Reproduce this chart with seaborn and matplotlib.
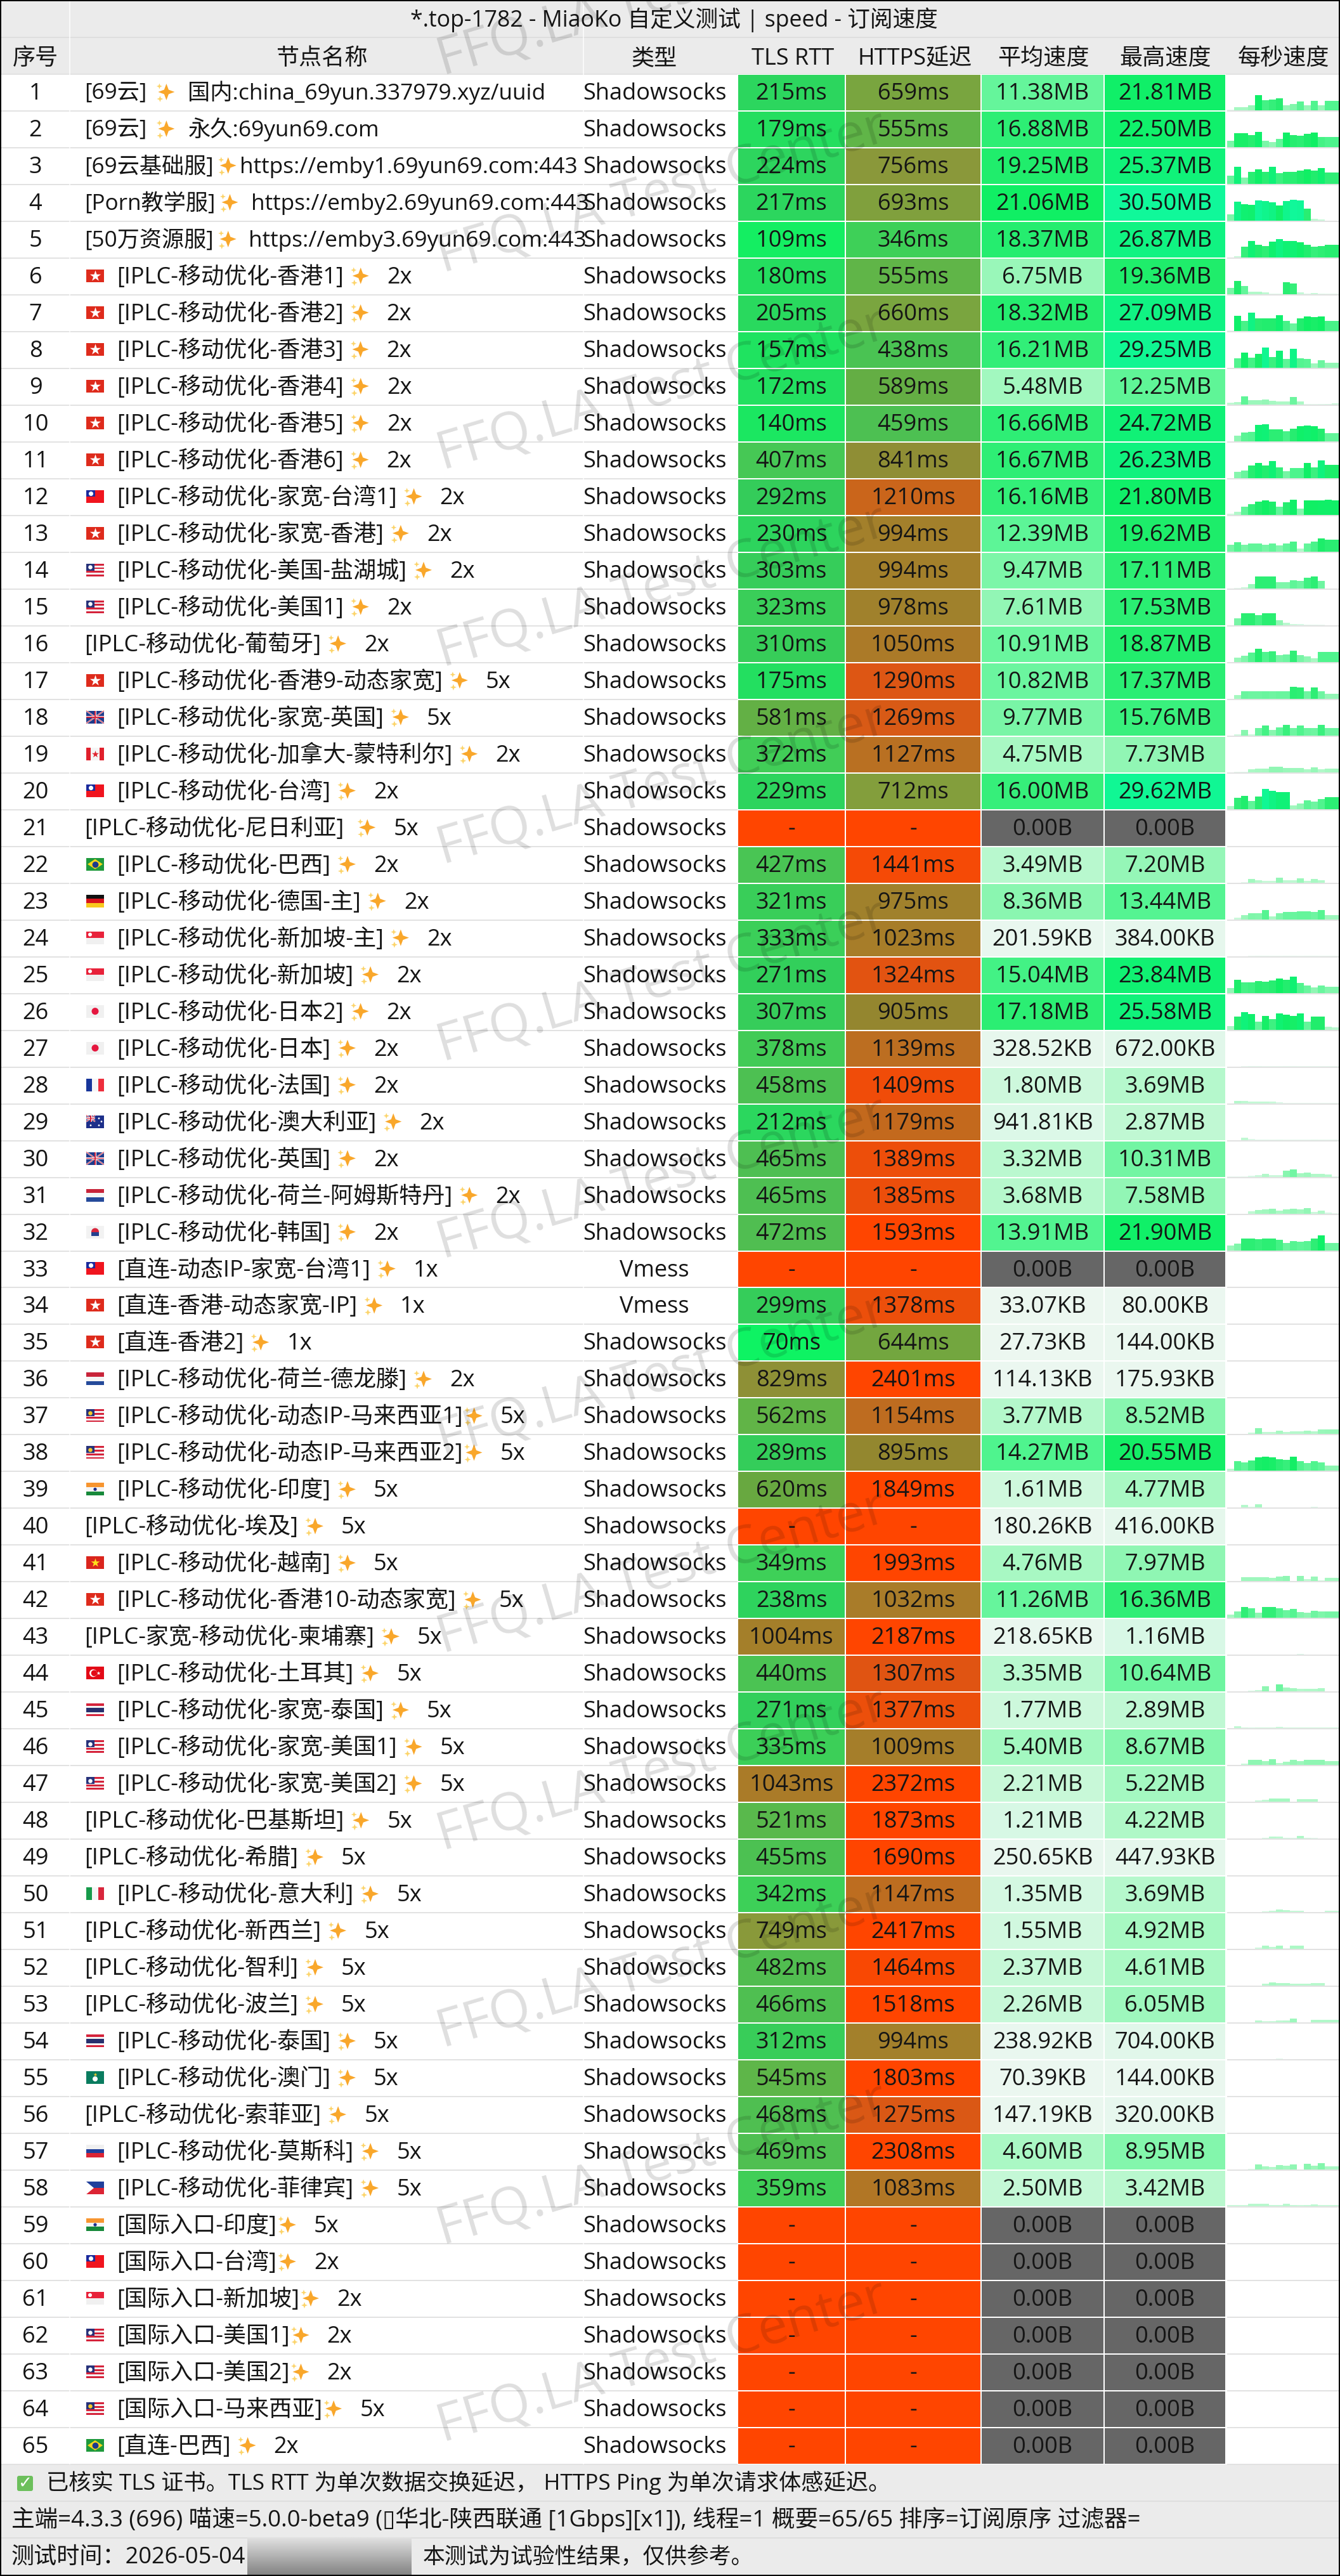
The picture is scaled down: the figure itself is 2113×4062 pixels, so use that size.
import matplotlib
matplotlib.use("Agg")
import numpy as np
import matplotlib.pyplot as plt
import seaborn as sns
from matplotlib.colors import LinearSegmentedColormap
from matplotlib.patches import Rectangle, Circle, Polygon, PathPatch, FancyBboxPatch
from matplotlib.path import Path

W, H, DPI = 2113, 4062, 100
TITLE = "*.top-1782 - MiaoKo 自定义测试 | speed - 订阅速度"
HEADERS = ["序号", "节点名称", "类型", "TLS RTT", "HTTPS延迟", "平均速度", "最高速度", "每秒速度"]
FOOT1 = "已核实 TLS 证书。TLS RTT 为单次数据交换延迟， HTTPS Ping 为单次请求体感延迟。"
FOOT2 = "主端=4.3.3 (696) 喵速=5.0.0-beta9 (▯华北-陕西联通 [1Gbps][x1]), 线程=1 概要=65/65 排序=订阅原序 过滤器="
FOOT3A = "测试时间：2026-05-04"
FOOT3B = "本测试为试验性结果，仅供参考。"
WATERMARK = "FFQ.LA Test Center"

P = "[IPLC-移动优化-"
names = ["[69云]", "[69云]", "[69云基础服]", "[Porn教学服]", "[50万资源服]",
         P+"香港1]", P+"香港2]", P+"香港3]", P+"香港4]", P+"香港5]", P+"香港6]",
         P+"家宽-台湾1]", P+"家宽-香港]", P+"美国-盐湖城]", P+"美国1]", P+"葡萄牙]",
         P+"香港9-动态家宽]", P+"家宽-英国]", P+"加拿大-蒙特利尔]", P+"台湾]", P+"尼日利亚]",
         P+"巴西]", P+"德国-主]", P+"新加坡-主]", P+"新加坡]", P+"日本2]", P+"日本]",
         P+"法国]", P+"澳大利亚]", P+"英国]", P+"荷兰-阿姆斯特丹]", P+"韩国]",
         "[直连-动态IP-家宽-台湾1]", "[直连-香港-动态家宽-IP]", "[直连-香港2]",
         P+"荷兰-德龙滕]", P+"动态IP-马来西亚1]", P+"动态IP-马来西亚2]", P+"印度]", P+"埃及]",
         P+"越南]", P+"香港10-动态家宽]", "[IPLC-家宽-移动优化-柬埔寨]", P+"土耳其]",
         P+"家宽-泰国]", P+"家宽-美国1]", P+"家宽-美国2]", P+"巴基斯坦]", P+"希腊]", P+"意大利]",
         P+"新西兰]", P+"智利]", P+"波兰]", P+"泰国]", P+"澳门]", P+"索菲亚]", P+"莫斯科]", P+"菲律宾]",
         "[国际入口-印度]", "[国际入口-台湾]", "[国际入口-新加坡]", "[国际入口-美国1]",
         "[国际入口-美国2]", "[国际入口-马来西亚]", "[直连-巴西]"]
suffixes = ["国内:china_69yun.337979.xyz/uuid", "永久:69yun69.com", "https://emby1.69yun69.com:443",
            "https://emby2.69yun69.com:443", "https://emby3.69yun69.com:443",
            "2x", "2x", "2x", "2x", "2x", "2x", "2x", "2x", "2x", "2x", "2x", "5x", "5x", "2x", "2x", "5x",
            "2x", "2x", "2x", "2x", "2x", "2x", "2x", "2x", "2x", "2x", "2x", "1x", "1x", "1x", "2x",
            "5x", "5x", "5x", "5x", "5x", "5x", "5x", "5x", "5x", "5x", "5x", "5x", "5x", "5x", "5x", "5x", "5x",
            "5x", "5x", "5x", "5x", "5x", "5x", "2x", "2x", "2x", "2x", "5x", "2x"]
flags = ["", "", "", "", "", "hk", "hk", "hk", "hk", "hk", "hk", "tw", "hk", "us", "us", "", "hk", "gb", "ca", "tw", "",
         "br", "de", "sg", "sg", "jp", "jp", "fr", "au", "gb", "nl", "kr", "tw", "hk", "hk", "nl", "my", "my", "in", "",
         "vn", "hk", "", "tr", "th", "us", "us", "", "", "it", "", "", "", "th", "mo", "", "ru", "ph",
         "in", "tw", "sg", "us", "us", "my", "br"]
types = ["Shadowsocks"] * 32 + ["Vmess", "Vmess"] + ["Shadowsocks"] * 31
tls = ["215", "179", "224", "217", "109", "180", "205", "157", "172", "140", "407", "292", "230", "303", "323", "310",
       "175", "581", "372", "229", "-", "427", "321", "333", "271", "307", "378", "458", "212", "465", "465", "472",
       "-", "299", "70", "829", "562", "289", "620", "-", "349", "238", "1004", "440", "271", "335", "1043", "521",
       "455", "342", "749", "482", "466", "312", "545", "468", "469", "359", "-", "-", "-", "-", "-", "-", "-"]
https = ["659", "555", "756", "693", "346", "555", "660", "438", "589", "459", "841", "1210", "994", "994", "978",
         "1050", "1290", "1269", "1127", "712", "-", "1441", "975", "1023", "1324", "905", "1139", "1409", "1179",
         "1389", "1385", "1593", "-", "1378", "644", "2401", "1154", "895", "1849", "-", "1993", "1032", "2187", "1307",
         "1377", "1009", "2372", "1873", "1690", "1147", "2417", "1464", "1518", "994", "1803", "1275", "2308", "1083",
         "-", "-", "-", "-", "-", "-", "-"]
avg = ["11.38MB", "16.88MB", "19.25MB", "21.06MB", "18.37MB", "6.75MB", "18.32MB", "16.21MB", "5.48MB", "16.66MB",
       "16.67MB", "16.16MB", "12.39MB", "9.47MB", "7.61MB", "10.91MB", "10.82MB", "9.77MB", "4.75MB", "16.00MB", "0.00B",
       "3.49MB", "8.36MB", "201.59KB", "15.04MB", "17.18MB", "328.52KB", "1.80MB", "941.81KB", "3.32MB", "3.68MB",
       "13.91MB", "0.00B", "33.07KB", "27.73KB", "114.13KB", "3.77MB", "14.27MB", "1.61MB", "180.26KB", "4.76MB",
       "11.26MB", "218.65KB", "3.35MB", "1.77MB", "5.40MB", "2.21MB", "1.21MB", "250.65KB", "1.35MB", "1.55MB", "2.37MB",
       "2.26MB", "238.92KB", "70.39KB", "147.19KB", "4.60MB", "2.50MB", "0.00B", "0.00B", "0.00B", "0.00B", "0.00B",
       "0.00B", "0.00B"]
peak = ["21.81MB", "22.50MB", "25.37MB", "30.50MB", "26.87MB", "19.36MB", "27.09MB", "29.25MB", "12.25MB", "24.72MB",
        "26.23MB", "21.80MB", "19.62MB", "17.11MB", "17.53MB", "18.87MB", "17.37MB", "15.76MB", "7.73MB", "29.62MB",
        "0.00B", "7.20MB", "13.44MB", "384.00KB", "23.84MB", "25.58MB", "672.00KB", "3.69MB", "2.87MB", "10.31MB",
        "7.58MB", "21.90MB", "0.00B", "80.00KB", "144.00KB", "175.93KB", "8.52MB", "20.55MB", "4.77MB", "416.00KB",
        "7.97MB", "16.36MB", "1.16MB", "10.64MB", "2.89MB", "8.67MB", "5.22MB", "4.22MB", "447.93KB", "3.69MB", "4.92MB",
        "4.61MB", "6.05MB", "704.00KB", "144.00KB", "320.00KB", "8.95MB", "3.42MB", "0.00B", "0.00B", "0.00B", "0.00B",
        "0.00B", "0.00B", "0.00B"]
# per-second speed in MB, one list of sixteen bars per node
per_second = [
    [0.8, 5, 5, 7, 21.8, 15, 16, 18, 7, 9, 13, 7, 14, 7, 14, 14],
    [9.6, 20, 20, 18, 22.5, 9.6, 7.6, 12, 21.6, 18, 17, 19.6, 21, 15, 14.4, 14.4],
    [11.6, 25.3, 9, 17.6, 21.6, 17.6, 25, 15.6, 17.6, 17.6, 19.6, 21, 19, 23, 16.4, 16.4],
    [9.6, 27.6, 23.6, 23, 30, 28.4, 27, 22, 28.4, 30.5, 30, 17.6, 3, 2, 0.4, 0],
    [0, 2, 16, 24, 18.8, 16.8, 23, 26.8, 24, 24, 22, 18.8, 16, 16.8, 18, 18],
    [9.6, 19.3, 11.6, 4, 4, 2.8, 0.8, 0.8, 17.6, 16, 2.4, 1.2, 2, 0.8, 0.4, 0.4],
    [0.4, 22.4, 14.8, 27, 18, 18.8, 18.8, 23, 14.8, 11, 18.8, 21, 20, 21, 14.8, 14.8],
    [0, 14, 22, 15, 20, 29.2, 15.6, 25, 12.4, 27.6, 13.6, 12.8, 6, 10.8, 7.6, 7.6],
    [3, 4, 12.2, 6.4, 6.4, 7.2, 5, 4.4, 4.4, 10.8, 4.4, 0.8, 0.4, 0.8, 1.2, 2],
    [0, 8, 12.8, 13.6, 24, 24.7, 17, 17, 14.8, 18, 22, 23, 22, 18.8, 11.6, 11.6],
    [0, 8.8, 11, 18, 22.4, 18.8, 24.4, 16, 10, 14.4, 14.4, 21.6, 15.6, 26.2, 19.6, 19.6],
    [1.5, 4, 12, 16, 19.5, 21, 19.5, 12, 18, 21.8, 9, 21, 21, 21.5, 21.8, 21.5],
    [10, 13.8, 9.8, 11.8, 11.8, 10, 11.8, 9, 11.8, 14.6, 4, 11.8, 14.6, 19.6, 17.5, 17.5],
    [0, 0.4, 2, 6.5, 17.1, 17, 17, 9.3, 9.3, 12.2, 10.6, 15.4, 17, 10.6, 0, 0],
    [0, 9.8, 17.5, 17.4, 15, 17.4, 17.5, 7.3, 3.3, 1.6, 1.2, 0.6, 0.4, 0.3, 0, 0],
    [0, 6.5, 9.3, 13.8, 18.87, 14.2, 15.9, 9.8, 10.6, 16.3, 9.8, 8, 4.9, 14.2, 14.2, 14.2],
    [0, 5.3, 11, 10.6, 10.6, 11, 10.6, 11, 11, 17.37, 16.7, 10.6, 16.7, 10.6, 7.3, 7.3],
    [0, 1.6, 8.5, 2, 10.6, 15, 8.5, 12.2, 15.76, 10.6, 14.2, 11, 10.6, 15.7, 10.6, 10.6],
    [0, 0.4, 0.8, 4.5, 4.9, 5.3, 7.73, 7.7, 6.5, 6.1, 6.1, 4.5, 6.9, 4, 4.9, 5.3],
    [4, 16.3, 19, 12.2, 17.9, 29.62, 27, 25, 25, 5.7, 8, 12.6, 10.6, 14.2, 17, 17],
    [0] * 16,
    [0, 0, 0.8, 5.5, 3.5, 2.2, 2.2, 7.2, 3, 3, 6.5, 2.8, 4.8, 3.8, 0, 0],
    [0, 2, 6.5, 9.3, 9, 13.44, 4.5, 9.3, 11, 11, 11.4, 11.4, 10.6, 13.4, 6, 6],
    [0, 0, 0.1, 0.2, 0.38, 0.3, 0.2, 0.2, 0.3, 0.3, 0.2, 0.3, 0.3, 0.2, 0.2, 0.2],
    [7.3, 19.5, 15, 15.4, 17.5, 16.7, 17.9, 21, 18.7, 23.84, 14.2, 11, 8, 11, 9, 9],
    [4.9, 18.7, 25.58, 22.8, 11.4, 20.3, 15.4, 23.6, 21.5, 20.3, 23.6, 11.4, 19.1, 19.1, 4, 3.3],
    [0, 0, 0.3, 0.67, 0.5, 0.3, 0.3, 0.3, 0.4, 0.4, 0.3, 0.3, 0.3, 0.3, 0.3, 0.3],
    [0, 3.69, 3, 2.5, 2.5, 2.5, 2, 1, 0.3, 0.3, 0.3, 0.3, 0.2, 0.2, 0.2, 0.2],
    [0, 0, 2.87, 1, 0.8, 0.8, 0.6, 0.8, 0.4, 0.5, 0.5, 0.5, 0.9, 0.6, 0.5, 0.5],
    [0.2, 0.2, 0.4, 1.2, 2, 4, 2, 2, 8.5, 10.31, 5.3, 6, 4, 4, 3.6, 0.8],
    [0, 0, 0, 2.8, 5.3, 5.7, 7.3, 4.5, 6.1, 6.9, 5.7, 7.58, 2, 4, 1.2, 0.4],
    [6.5, 9.3, 17, 17, 16, 17, 17, 15, 11, 13.4, 12.2, 13, 16.7, 21.9, 10.6, 10.6],
    [0] * 16,
    [0, 0, 0, 0.03, 0.08, 0.04, 0.03, 0.03, 0.03, 0.04, 0.03, 0.03, 0.03, 0.03, 0.03, 0.03],
    [0, 0, 0.14, 0.03, 0.03, 0.02, 0.02, 0.02, 0.02, 0.02, 0.02, 0.02, 0.02, 0.02, 0.02, 0.02],
    [0, 0, 0.1, 0.12, 0.1, 0.17, 0.1, 0.12, 0.1, 0.1, 0.12, 0.1, 0.1, 0.12, 0.1, 0.1],
    [0, 0, 0.4, 2, 8.52, 2.8, 2.8, 4.9, 3.3, 3.7, 3.7, 4.9, 3.7, 6.5, 6.9, 6.9],
    [3.3, 14.2, 12.2, 15.4, 20, 20.55, 20, 17, 15.9, 20.5, 14.2, 11.4, 14.2, 12.2, 8, 8],
    [0, 0.2, 3.7, 1.6, 4.77, 0.8, 0.6, 0.4, 0.4, 0.8, 0.8, 0.8, 1.2, 0.8, 0.8, 0.8],
    [0, 0.1, 0.41, 0.2, 0.15, 0.15, 0.2, 0.2, 0.15, 0.2, 0.15, 0.15, 0.2, 0.15, 0.15, 0.15],
    [0, 0.4, 6, 6, 6, 6, 5.3, 7, 7.97, 0.8, 7.7, 2.8, 6.5, 1.6, 4.9, 4.9],
    [4.9, 9.3, 16.36, 13.8, 8, 16.3, 16.3, 13.8, 11, 13.4, 9, 8, 10.6, 9.3, 10, 10],
    [0, 0, 0, 0.1, 0.1, 0.1, 0.1, 0.1, 0.2, 0.3, 1.16, 0.6, 0.3, 0.2, 0.1, 0.1],
    [0, 0, 0, 1.6, 2.4, 8, 1.2, 10.64, 5.7, 5.3, 3.7, 4, 4, 4.5, 0.3, 0.3],
    [0.3, 2.89, 1.6, 1.2, 1.6, 1.6, 1.6, 2, 1.6, 1.6, 1.6, 1.6, 1.6, 1.6, 1.6, 1.6],
    [0, 0.2, 2.4, 8, 8, 5.7, 8.67, 3.3, 5.3, 7.3, 6, 8, 8, 8, 5.7, 5.7],
    [0, 0, 0, 0, 2, 2.8, 5.22, 5.2, 5.2, 0, 4, 4, 4, 0, 0, 0],
    [0, 0, 0, 0, 0, 1.6, 3.2, 2.8, 1.6, 1.2, 4.22, 1.6, 0.8, 0.4, 0.3, 0.3],
    [0, 0, 0.1, 0.2, 0.3, 0.3, 0.44, 0.3, 0.3, 0.3, 0.3, 0.3, 0.3, 0.2, 0.2, 0.2],
    [0, 0, 0, 0, 0.4, 1.6, 2.4, 3.69, 3.3, 2.4, 2.4, 0.4, 0.3, 0.3, 2.4, 2.4],
    [0, 0, 0, 0, 1.6, 4.4, 2.8, 4.92, 0.8, 4.4, 4.4, 0.2, 0, 0, 0, 0],
    [0, 0, 0, 0, 0, 3.3, 4.61, 4, 4, 3.3, 3.3, 3.3, 3.5, 3.5, 0.3, 0.2],
    [0, 0, 0, 0, 3.3, 1.6, 2, 2.8, 3.3, 6.05, 0.6, 0.3, 4, 4, 4, 4],
    [0, 0, 0.1, 0.2, 0.3, 0.3, 0.3, 0.7, 0.3, 0.3, 0.2, 0.3, 0.3, 0.2, 0.2, 0.2],
    [0, 0, 0, 0.05, 0.14, 0.08, 0.05, 0.05, 0.08, 0.1, 0.05, 0.05, 0.05, 0.05, 0.05, 0.05],
    [0, 0, 0.1, 0.15, 0.32, 0.2, 0.15, 0.15, 0.15, 0.2, 0.15, 0.15, 0.1, 0.15, 0.1, 0.1],
    [0, 0.2, 0.4, 1.2, 7.7, 4.9, 3.7, 6.5, 5.3, 7.7, 0.4, 8.5, 6.1, 8.95, 4.5, 4.5],
    [2, 2, 2, 3.4, 3.4, 3.4, 2.4, 2.4, 3.42, 2.4, 2, 2.4, 3, 2, 2, 2],
    [0] * 16, [0] * 16, [0] * 16, [0] * 16, [0] * 16, [0] * 16, [0] * 16,
]

MS_STOPS = [(0, "#05fa64"), (109, "#14ee62"), (215, "#2cd65e"), (292, "#34cc5a"), (346, "#3ed058"), (459, "#4dc052"),
            (555, "#60b548"), (620, "#68a840"), (659, "#7aa53f"), (756, "#8a983a"), (841, "#8f8e35"), (895, "#93872f"),
            (994, "#a3802b"), (1050, "#ab7a28"), (1210, "#c9651b"), (1290, "#dd5614"), (1500, "#ff4500")]
MB_STOPS = [(0, "#ecf7f0"), (0.2, "#e9f7ef"), (0.4, "#e5f7ec"), (1.16, "#d8f8e6"), (1.61, "#cff8dd"), (4.76, "#a8f8c3"),
            (7.97, "#8ff6b3"), (11.26, "#66f59c"), (14.27, "#4ff48e"), (16.36, "#30ee76"), (19.25, "#20ed6c"),
            (21, "#10ef64"), (26, "#10f27c"), (30.5, "#10f89a"), (32, "#10f89a")]
ms_cmap = LinearSegmentedColormap.from_list("ms", [(v / 1500, c) for v, c in MS_STOPS], N=512)
mb_cmap = LinearSegmentedColormap.from_list("mb", [(v / 32, c) for v, c in MB_STOPS], N=1024)
mb_cmap.set_under("#666666")


def to_ms(s):
    return 9999.0 if s == "-" else float(s)


def to_mb(s):
    if s.endswith("MB"):
        return float(s[:-2])
    if s.endswith("KB"):
        return float(s[:-2]) / 1024
    return 0.0


sns.set_theme(style="white")
plt.rcParams["font.family"] = ["Open Sans", "Noto Sans CJK SC", "DejaVu Sans"]
FS = 26
INK = "#151515"
ROW_H = (3886 - 117) / 65
TOP = 117

fig = plt.figure(figsize=(W / DPI + 1e-5, H / DPI + 1e-5), dpi=DPI, facecolor="white")


def px_axes(x0, y0, x1, y1, z=1):
    return fig.add_axes([x0 / W, 1 - y1 / H, (x1 - x0) / W, (y1 - y0) / H], zorder=z)


base = fig.add_axes([0, 0, 1, 1], zorder=0)
base.set_xlim(0, W)
base.set_ylim(H, 0)
base.axis("off")
renderer = fig.canvas.get_renderer()


def rect(x, y, w, h, c, z=1, **kw):
    base.add_patch(Rectangle((x, y), w, h, facecolor=c, edgecolor="none", zorder=z, **kw))


# bands
BAND = "#ebebeb"
rect(0, 0, W, 117, BAND)
rect(0, 3886, W, H - 3886, BAND)
for yy in (59, 3944, 4002):
    rect(0, yy - 1, W, 2, "#dedede", 2)
rect(0, 116, W, 2, "#e2e2e2", 2)
for i in range(65):
    rect(0, TOP + (i + 1) * ROW_H - 1, 1163, 2, "#e2e2e2", 2)
    rect(1935, TOP + (i + 1) * ROW_H - 1, W - 1935, 2, "#e2e2e2", 2)
for xx in (109, 919):
    rect(xx, 0, 2, 3886, "#ffffff", 3, alpha=0.7)

# header and title
def label(x, y, s, ha="left", size=FS, **kw):
    return base.text(x, y, s, ha=ha, va="baseline", fontsize=size, color=INK, zorder=6, **kw)


label(1063, 42, TITLE, ha="center", size=25.7)
for x, s in zip((56, 507, 1032, 1250, 1443, 1645, 1838, 2024), HEADERS):
    label(x, 102, s, ha="center")


def star_path(cx, cy, r):
    k = 0.27 * r
    v = [(cx, cy - r), (cx + k, cy - k), (cx + r, cy), (cx + k, cy + k), (cx, cy + r), (cx - k, cy + k), (cx - r, cy),
         (cx - k, cy - k), (cx, cy - r)]
    return Path(v, [Path.MOVETO] + [Path.LINETO] * 7 + [Path.CLOSEPOLY])


def sparkle(x, cy):
    base.add_patch(PathPatch(star_path(x + 15, cy, 13), facecolor="#f9a72b", edgecolor="none", zorder=5))
    base.add_patch(PathPatch(star_path(x + 4, cy - 9, 4.5), facecolor="#fcd46a", edgecolor="none", zorder=5))
    base.add_patch(PathPatch(star_path(x + 5, cy + 11, 5), facecolor="#fcd46a", edgecolor="none", zorder=5))


def stripes(x, y, w, h, cols, vertical=False):
    n = len(cols)
    for i, c in enumerate(cols):
        if vertical:
            rect(x + i * w / n, y, w / n, h, c, 4)
        else:
            rect(x, y + i * h / n, w, h / n, c, 4)


def flag(code, cy):
    x, w, h = 136, 28, 20
    y = cy - h / 2
    cx = x + w / 2
    z = 5

    def dot(px, py, r, c):
        base.add_patch(Circle((px, py), r, facecolor=c, edgecolor="none", zorder=z))

    def mark(px, py, m, s, c):
        base.scatter([px], [py], marker=m, s=s, color=c, linewidths=0, zorder=z)

    def union(ux, uy, uw, uh):
        rect(ux, uy, uw, uh, "#1f3a8a", 4)
        base.plot([ux, ux + uw], [uy, uy + uh], color="white", lw=1.6, zorder=z, solid_capstyle="butt")
        base.plot([ux, ux + uw], [uy + uh, uy], color="white", lw=1.6, zorder=z, solid_capstyle="butt")
        base.plot([ux, ux + uw], [uy, uy + uh], color="#d5233b", lw=0.7, zorder=z, solid_capstyle="butt")
        base.plot([ux, ux + uw], [uy + uh, uy], color="#d5233b", lw=0.7, zorder=z, solid_capstyle="butt")
        rect(ux + uw / 2 - 1.5, uy, 3, uh, "white", z)
        rect(ux, uy + uh / 2 - 1.5, uw, 3, "white", z)
        rect(ux + uw / 2 - 0.8, uy, 1.6, uh, "#d5233b", z)
        rect(ux, uy + uh / 2 - 0.8, uw, 1.6, "#d5233b", z)

    if code == "hk":
        rect(x, y, w, h, "#de2b1c", 4)
        mark(cx, cy, "*", 170, "white")
    elif code == "tw":
        rect(x, y, w, h, "#f0141e", 4)
        rect(x, y, w / 2, h / 2, "#1a2a9c", 5)
        base.scatter([x + w / 4], [y + h / 4], s=26, color="white", linewidths=0, zorder=6)
    elif code in ("us", "my"):
        cols = ["#d5233b", "#f5f5f5"] * 3 + ["#d5233b"]
        stripes(x, y, w, h, cols)
        rect(x, y, w * 0.48, h * 0.55, "#27327a", 5)
        base.scatter([x + 6], [y + 5.5], s=22, color="#f6c928" if code == "my" else "#ffffff", linewidths=0, zorder=6)
    elif code == "gb":
        union(x, y, w, h)
    elif code == "ca":
        stripes(x, y, w, h, ["#e0202c", "#f5f5f5", "#f5f5f5", "#e0202c"], vertical=True)
        mark(cx, cy, "*", 70, "#e0202c")
    elif code == "br":
        rect(x, y, w, h, "#1f9a3c", 4)
        base.add_patch(Polygon([(x + 2, cy), (cx, y + 2), (x + w - 2, cy), (cx, y + h - 2)], facecolor="#f8d51c", edgecolor="none", zorder=z))
        base.scatter([cx], [cy], s=50, color="#1c3a8c", linewidths=0, zorder=6)
    elif code == "de":
        stripes(x, y, w, h, ["#111111", "#d8141c", "#f8c91e"])
    elif code == "sg":
        stripes(x, y, w, h, ["#e8223a", "#f0f0f0"])
        dot(x + 6, y + 5, 3, "white")
    elif code == "jp":
        rect(x, y, w, h, "#f0f0f0", 4)
        dot(cx, cy, 5.5, "#e5173f")
    elif code == "fr":
        stripes(x, y, w, h, ["#17359a", "#f5f5f5", "#ee2e3c"], vertical=True)
    elif code == "au":
        rect(x, y, w, h, "#1d2f8a", 4)
        union(x, y, w / 2, h / 2)
        for px, py in ((x + 7, y + 16), (x + 20, y + 5), (x + 24, y + 10), (x + 20, y + 16)):
            dot(px, py, 1.4, "white")
    elif code == "nl":
        stripes(x, y, w, h, ["#c8243a", "#f5f5f5", "#254a9a"])
    elif code == "kr":
        rect(x, y, w, h, "#f2f2f2", 4)
        dot(cx, cy, 6, "#d8263c")
        base.add_patch(Rectangle((cx - 6, cy), 12, 6, facecolor="#24408e", edgecolor="none", zorder=6))
    elif code == "in":
        stripes(x, y, w, h, ["#f7952f", "#f5f5f5", "#17893a"])
        dot(cx, cy, 2.6, "#1f2f8a")
    elif code == "vn":
        rect(x, y, w, h, "#da251d", 4)
        mark(cx, cy, "*", 110, "#ffe01b")
    elif code == "tr":
        rect(x, y, w, h, "#e30a17", 4)
        dot(cx - 3, cy, 6, "white")
        dot(cx - 1.5, cy, 4.8, "#e30a17")
        mark(cx + 5, cy, "*", 22, "white")
    elif code == "th":
        stripes(x, y, w, h, ["#d5233b", "#f5f5f5", "#27306e", "#27306e", "#f5f5f5", "#d5233b"])
    elif code == "it":
        stripes(x, y, w, h, ["#169a4a", "#f5f5f5", "#d8263c"], vertical=True)
    elif code == "mo":
        rect(x, y, w, h, "#0a7c5f", 4)
        dot(cx, cy + 2, 4, "white")
        mark(cx, cy - 5, "*", 20, "#f6c928")
    elif code == "ru":
        stripes(x, y, w, h, ["#f0f0f0", "#1f3f9c", "#dc2434"])
    elif code == "ph":
        stripes(x, y, w, h, ["#1f3f9c", "#dc2434"])
        base.add_patch(Polygon([(x, y), (x + 12, cy), (x, y + h)], facecolor="white", edgecolor="none", zorder=z))


# name column; gaps before and after the sparkle differ on some rows
TIGHT = {36, 37, 58, 59, 60, 61, 62, 63}
FIRST_GAPS = {0: (16, 21), 1: (16, 21), 2: (8, 5), 3: (8, 20), 4: (8, 19)}
for i in range(65):
    top = TOP + i * ROW_H
    cy = top + ROW_H / 2 - 1
    bl = top + 40
    label(56, bl, str(i + 1), ha="center")
    label(1032, bl, types[i], ha="center")
    x0 = 133
    if flags[i]:
        flag(flags[i], cy)
        x0 = 184
    sz = 25.3 if i < 5 else FS
    t = label(x0, bl, names[i], size=sz)
    end = t.get_window_extent(renderer).x1
    if i in FIRST_GAPS:
        gap, sgap = FIRST_GAPS[i]
    else:
        gap, sgap = (3 if i in TIGHT else (22 if i == 20 else 12)), 28
    sparkle(end + gap, cy)
    label(end + gap + 28 + sgap, bl, suffixes[i], size=25.4 if i < 5 else FS)

# metric columns are heatmaps
COLS = [(1163, 1333, [to_ms(s) for s in tls], [s + "ms" if s != "-" else s for s in tls], ms_cmap, 0, 1500),
        (1333, 1547, [to_ms(s) for s in https], [s + "ms" if s != "-" else s for s in https], ms_cmap, 0, 1500),
        (1547, 1741, [to_mb(s) for s in avg], avg, mb_cmap, 1e-6, 32),
        (1741, 1933, [to_mb(s) for s in peak], peak, mb_cmap, 1e-6, 32)]
for x0, x1, vals, labs, cmap, vmin, vmax in COLS:
    ax = px_axes(x0, TOP, x1, 3886)
    sns.heatmap(np.array(vals).reshape(-1, 1), ax=ax, cmap=cmap, vmin=vmin, vmax=vmax,
                annot=np.array(labs, dtype=object).reshape(-1, 1), fmt="", cbar=False,
                xticklabels=False, yticklabels=False, linewidths=1.2, linecolor="white",
                annot_kws={"fontsize": FS, "color": INK, "va": "baseline"})
    for tx in ax.texts:
        px, py = tx.get_position()
        tx.set_position((px, py + 11 / ROW_H))

# per-second speed is one small bar chart per row
BAR_SCALE = ROW_H / 1.1
for i, row in enumerate(per_second):
    if not any(row):
        continue
    top = TOP + i * ROW_H
    ax = px_axes(1935, top, 2111, top + ROW_H - 1)
    idx = list(range(len(row)))
    pal = [mb_cmap(max(v, 1e-5) / 32) for v in row]
    sns.barplot(x=idx, y=row, hue=idx, palette=pal, legend=False, width=1, saturation=1, linewidth=0, ax=ax)
    ax.set_xlim(-0.5, 15.5)
    ax.set_ylim(0, BAR_SCALE)
    ax.axis("off")

# footer
base.add_patch(FancyBboxPatch((27, 3904), 25, 24, boxstyle="round,pad=0,rounding_size=3", facecolor="#6cbf5b", edgecolor="none", zorder=4))
base.text(39.5, 3916, "✓", ha="center", va="center", color="white", fontsize=19, family="DejaVu Sans", fontweight="bold", zorder=6)
label(73, 3886 + 40, FOOT1, size=25.4)
label(18, 3944 + 40, FOOT2, size=26.4)
label(18, 4002 + 40, FOOT3A)
label(667, 4002 + 40, FOOT3B, size=25)
grad = np.linspace(0.88, 0.52, 32).reshape(-1, 1)
base.imshow(grad, extent=(390, 648, 4060, 4002), cmap="gray", vmin=0, vmax=1, aspect="auto", zorder=3, interpolation="bilinear")
base.set_xlim(0, W)
base.set_ylim(H, 0)

# watermark and image border
over = fig.add_axes([0, 0, 1, 1], zorder=10)
over.set_xlim(0, W)
over.set_ylim(H, 0)
over.axis("off")
over.patch.set_alpha(0)
for k in range(13):
    over.text(698, 119 + 311 * k, WATERMARK, fontsize=60, color="black", alpha=0.13, rotation=16.5,
              rotation_mode="anchor", ha="left", va="baseline")
for bx, by, bw, bh in ((0, 0, W, 2), (0, H - 2, W, 2), (0, 0, 1.5, H), (W - 2, 0, 2, H)):
    over.add_patch(Rectangle((bx, by), bw, bh, facecolor="black", edgecolor="none"))

fig.savefig("out.png", dpi=DPI)
